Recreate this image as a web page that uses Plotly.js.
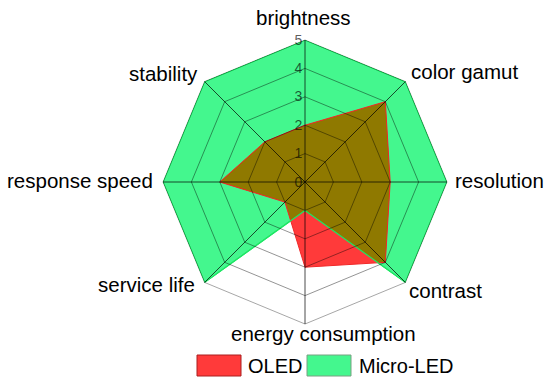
<!DOCTYPE html>
<html>
<head>
<meta charset="utf-8">
<script src="https://cdn.plot.ly/plotly-3.0.1.min.js"></script>
<style>
  html, body { margin: 0; padding: 0; background: #fff; }
  #chart { width: 550px; height: 386px; }
</style>
</head>
<body>
<div id="chart"></div>
<script>
// Categories, clockwise from the top
const categories = ['brightness', 'color gamut', 'resolution', 'contrast',
                    'energy consumption', 'service life', 'response speed', 'stability'];
const oledValues = [2, 4, 3, 4, 3, 1, 3, 2];
const microLedValues = [5, 5, 5, 5, 1, 5, 5, 5];
const radialTicks = [0, 1, 2, 3, 4, 5];
const seriesNames = ['OLED', 'Micro-LED'];

const GREEN = 'rgb(68,247,142)';
const GREEN_LINE = 'rgb(30,230,100)';
const RED = 'rgb(255,58,58)';
const RED_LINE = 'rgb(240,40,40)';
const OLIVE = 'rgb(143,121,0)';
const FONT = 'Liberation Sans, Arial, sans-serif';

function closed(arr) { return arr.concat([arr[0]]); }

const data = [
  {
    type: 'scatterpolar', name: seriesNames[1],
    r: closed(microLedValues), theta: closed(categories),
    mode: 'lines', fill: 'toself', fillcolor: GREEN,
    line: { color: GREEN_LINE, width: 1.2 }, showlegend: false
  },
  {
    type: 'scatterpolar', name: seriesNames[0],
    r: closed(oledValues), theta: closed(categories),
    mode: 'lines', fill: 'toself', fillcolor: RED,
    line: { color: RED_LINE, width: 1 }, showlegend: false
  }
];

const cx = 305, cy = 182, R = 142, W = 550, H = 386;

// label placement (pixels): [x, y(middle), xanchor]
const labelPos = [
  [303.5, 18, 'center'],
  [409, 71, 'left'],
  [453, 180, 'left'],
  [407, 290, 'left'],
  [323, 333, 'center'],
  [197, 284, 'right'],
  [155, 180, 'right'],
  [200, 73, 'right']
];

const annotations = categories.map(function (c, i) {
  return { xref: 'paper', yref: 'paper', x: labelPos[i][0] / W, y: 1 - labelPos[i][1] / H,
    xanchor: labelPos[i][2], yanchor: 'middle', showarrow: false, text: c,
    font: { size: 20.5, color: '#000', family: FONT } };
});
annotations.push(
  { xref: 'paper', yref: 'paper', x: 246 / W, y: 1 - 365.5 / H,
    xanchor: 'left', yanchor: 'middle', showarrow: false,
    text: seriesNames[0], font: { size: 20, color: '#000', family: FONT } },
  { xref: 'paper', yref: 'paper', x: 357 / W, y: 1 - 365.5 / H,
    xanchor: 'left', yanchor: 'middle', showarrow: false,
    text: seriesNames[1], font: { size: 20, color: '#000', family: FONT } }
);

const layout = {
  width: W, height: H,
  margin: { l: 0, r: 0, t: 0, b: 0 },
  paper_bgcolor: '#fff',
  showlegend: false,
  font: { family: FONT, color: '#000' },
  polar: {
    domain: { x: [(cx - R) / W, (cx + R) / W], y: [(H - cy - R) / H, (H - cy + R) / H] },
    gridshape: 'linear',
    bgcolor: 'rgba(0,0,0,0)',
    radialaxis: {
      range: [0, 5], tickvals: radialTicks, ticktext: radialTicks.map(String),
      angle: 90, side: 'counterclockwise', showline: false, tickangle: 90,
      ticks: '', layer: 'above traces',
      gridcolor: 'rgba(0,0,0,0.42)', gridwidth: 1,
      tickfont: { size: 14, color: 'rgba(0,0,0,0.65)', family: FONT }
    },
    angularaxis: {
      direction: 'clockwise', rotation: 90, type: 'category',
      categoryarray: categories, showticklabels: false,
      ticks: '', layer: 'above traces',
      showline: true, linecolor: 'rgba(0,0,0,0.35)', linewidth: 1,
      gridcolor: 'rgba(0,0,0,0.7)', gridwidth: 1
    }
  },
  shapes: [
    { type: 'rect', xref: 'paper', yref: 'paper',
      x0: 197 / W, x1: 241 / W, y0: 1 - 376 / H, y1: 1 - 355 / H,
      fillcolor: RED, line: { color: 'rgb(170,30,30)', width: 1 } },
    { type: 'rect', xref: 'paper', yref: 'paper',
      x0: 307 / W, x1: 351 / W, y0: 1 - 376 / H, y1: 1 - 355 / H,
      fillcolor: GREEN, line: { color: 'rgb(120,160,130)', width: 1 } }
  ],
  annotations: annotations
};

Plotly.newPlot('chart', data, layout, { staticPlot: true, displayModeBar: false }).then(function (gd) {
  const svgNS = 'http://www.w3.org/2000/svg';
  const traces = gd.querySelectorAll('.scatterlayer .trace');
  if (traces.length < 2) return;
  const greenFill = traces[0].querySelector('path.js-fill');
  const redFill = traces[1].querySelector('path.js-fill');
  const greenLine = traces[0].querySelector('path.js-line');
  if (greenFill && redFill) {
    const defs = gd.querySelector('defs') || gd.querySelector('svg').appendChild(document.createElementNS(svgNS, 'defs'));
    const cp = document.createElementNS(svgNS, 'clipPath');
    cp.setAttribute('id', 'overlapclip');
    const p = document.createElementNS(svgNS, 'path');
    p.setAttribute('d', greenFill.getAttribute('d'));
    cp.appendChild(p);
    defs.appendChild(cp);
    const ov = redFill.cloneNode(false);
    ov.style.fill = OLIVE;
    ov.style.fillOpacity = 1;
    ov.setAttribute('clip-path', 'url(#overlapclip)');
    redFill.parentNode.insertBefore(ov, redFill.nextSibling);
  }
  if (greenLine) {
    traces[1].appendChild(greenLine.cloneNode(false));
  }
  // bring the grid lines above the filled areas
  const front = gd.querySelector('.polar .frontplot');
  if (front) {
    ['.radial-grid', '.angular-grid'].forEach(function (sel) {
      const g = gd.querySelector('.polar ' + sel);
      if (g) front.parentNode.insertBefore(g, front.nextSibling);
    });
  }
});
</script>
</body>
</html>
